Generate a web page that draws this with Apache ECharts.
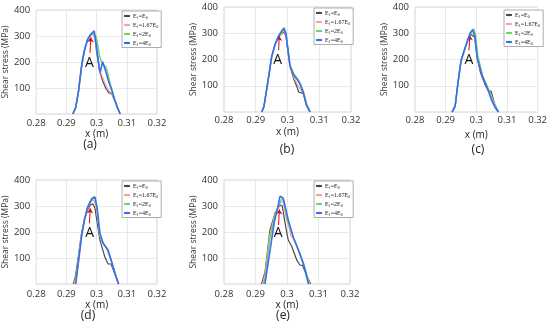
<!DOCTYPE html>
<html><head><meta charset="utf-8">
<script src="https://cdn.jsdelivr.net/npm/echarts@6/dist/echarts.min.js"></script>
<style>html,body{margin:0;padding:0;background:#fff}#c{width:550px;height:324px}</style>
</head><body><div id="c"></div>
<script>
// Series names (legend)
const seriesNames = ['E1=E0', 'E1=1.67E0', 'E1=2E0', 'E1=4E0'];
const panelLabels = ['(a)', '(b)', '(c)', '(d)', '(e)'];
const xTicks = [0.28, 0.29, 0.30, 0.31, 0.32];
const yTicks = [100, 200, 300, 400];

// Panel (a): [x (m), shear stress (MPa)]
const a_E0   = [[0.2922,0],[0.2931,24],[0.294,85],[0.295,178],[0.296,245],[0.297,283],[0.298,304],[0.2988,312],[0.2995,290],[0.300,240],[0.301,165],[0.302,128],[0.303,100],[0.304,82],[0.3045,76],[0.305,78],[0.306,52],[0.307,20],[0.3078,0]];
const a_E167 = [[0.2922,0],[0.2931,24],[0.294,86],[0.295,180],[0.296,246],[0.297,284],[0.298,303],[0.2988,308],[0.2995,292],[0.300,250],[0.301,172],[0.302,140],[0.303,112],[0.304,90],[0.305,80],[0.306,54],[0.307,21],[0.3078,0]];
const a_E2   = [[0.2922,0],[0.2931,25],[0.294,87],[0.295,181],[0.296,248],[0.297,285],[0.298,302],[0.299,308],[0.2998,300],[0.3005,260],[0.301,222],[0.302,190],[0.303,182],[0.3035,170],[0.304,140],[0.305,96],[0.306,56],[0.307,22],[0.3079,0]];
const a_E4   = [[0.2921,0],[0.2931,26],[0.294,88],[0.295,183],[0.2955,220],[0.2962,255],[0.297,287],[0.298,306],[0.2985,312],[0.2992,320],[0.300,258],[0.301,168],[0.3012,160],[0.302,201],[0.303,165],[0.304,124],[0.305,92],[0.306,54],[0.307,22],[0.3078,0]];

// Panel (b)
const b_E0   = [[0.2919,0],[0.2926,22],[0.294,128],[0.295,208],[0.296,252],[0.297,282],[0.298,298],[0.2988,305],[0.2995,290],[0.300,245],[0.3008,172],[0.302,125],[0.303,95],[0.3035,76],[0.304,80],[0.305,70],[0.306,25],[0.3071,0]];
const b_E167 = [[0.2919,0],[0.2926,22],[0.294,129],[0.295,209],[0.296,253],[0.297,283],[0.298,300],[0.2988,310],[0.2995,292],[0.300,248],[0.3008,174],[0.302,132],[0.303,108],[0.304,86],[0.305,72],[0.306,25],[0.3071,0]];
const b_E2   = [[0.2919,0],[0.2926,22],[0.294,130],[0.295,210],[0.296,254],[0.297,284],[0.298,304],[0.299,322],[0.2995,302],[0.300,255],[0.3008,178],[0.302,145],[0.303,130],[0.304,110],[0.305,80],[0.306,32],[0.3072,0]];
const b_E4   = [[0.2919,0],[0.2926,22],[0.294,130],[0.2945,171],[0.295,210],[0.296,255],[0.297,285],[0.298,305],[0.2988,318],[0.2995,300],[0.300,250],[0.3008,175],[0.302,140],[0.303,125],[0.304,105],[0.305,72],[0.306,25],[0.3071,0]];

// Panel (c)
const c_E0   = [[0.2921,0],[0.2931,22],[0.294,108],[0.295,192],[0.296,230],[0.297,265],[0.298,298],[0.2985,305],[0.2995,285],[0.3003,210],[0.3013,152],[0.303,101],[0.3041,76],[0.3048,80],[0.306,30],[0.3072,0]];
const c_E167 = [[0.2921,0],[0.2931,22],[0.294,109],[0.295,193],[0.296,231],[0.297,266],[0.298,300],[0.2988,308],[0.2995,290],[0.3003,215],[0.3013,160],[0.303,110],[0.304,88],[0.305,60],[0.306,28],[0.3072,0]];
const c_E2   = [[0.2921,0],[0.2931,22],[0.294,110],[0.295,194],[0.296,232],[0.297,267],[0.298,300],[0.2992,316],[0.2998,290],[0.3005,215],[0.302,140],[0.3035,98],[0.305,55],[0.306,22],[0.3073,0]];
const c_E4   = [[0.2921,0],[0.2931,22],[0.294,110],[0.295,195],[0.296,232],[0.297,268],[0.298,300],[0.2988,314],[0.2995,290],[0.3003,205],[0.302,135],[0.3035,95],[0.305,45],[0.306,20],[0.3072,0]];

// Panel (d)
const d_E0   = [[0.2923,0],[0.293,30],[0.294,110],[0.295,195],[0.296,250],[0.297,285],[0.298,305],[0.2988,308],[0.2995,290],[0.300,250],[0.3011,169],[0.3027,105],[0.3038,77],[0.3048,77],[0.3064,28],[0.3072,0]];
const d_E167 = [[0.2925,0],[0.2932,30],[0.294,100],[0.295,190],[0.296,250],[0.297,290],[0.298,315],[0.299,325],[0.2998,300],[0.3011,185],[0.302,160],[0.3035,130],[0.3048,90],[0.3064,30],[0.3073,0]];
const d_E2   = [[0.2928,0],[0.2935,40],[0.294,90],[0.295,185],[0.296,250],[0.297,292],[0.298,320],[0.2993,338],[0.300,300],[0.3011,185],[0.302,160],[0.3035,135],[0.3048,92],[0.3064,30],[0.3073,0]];
const d_E4   = [[0.2931,0],[0.2935,40],[0.294,85],[0.295,180],[0.296,248],[0.297,295],[0.2985,330],[0.2995,333],[0.3002,290],[0.3011,195],[0.3022,156],[0.3038,131],[0.3048,92],[0.3064,30],[0.3073,0]];

// Panel (e)
const e_E0   = [[0.2919,0],[0.293,45],[0.2946,208],[0.2962,272],[0.297,290],[0.2978,304],[0.2985,300],[0.2994,233],[0.3004,169],[0.3015,144],[0.3031,92],[0.3041,73],[0.3049,72],[0.3062,35],[0.3075,0]];
const e_E167 = [[0.2922,0],[0.293,35],[0.2945,185],[0.296,260],[0.297,290],[0.298,318],[0.2988,315],[0.2998,250],[0.3008,210],[0.3012,185],[0.302,175],[0.303,150],[0.304,120],[0.305,85],[0.3062,40],[0.3072,0]];
const e_E2   = [[0.2925,0],[0.2932,30],[0.2945,170],[0.296,255],[0.297,292],[0.2983,326],[0.299,322],[0.300,255],[0.3009,220],[0.302,180],[0.303,150],[0.304,118],[0.305,82],[0.3062,40],[0.307,0]];
const e_E4   = [[0.293,0],[0.2935,40],[0.295,160],[0.296,240],[0.297,290],[0.2978,338],[0.2988,330],[0.3004,246],[0.302,180],[0.3036,131],[0.3052,80],[0.3068,0]];

// Arrow "A": [tail, tip] in data coords, and label position
const arrowA = [[[0.2978,235],[0.2981,295]],[[0.2972,235],[0.2974,290]],[[0.2976,235],[0.2979,292]],[[0.2976,233],[0.2979,291]],[[0.2973,227],[0.2976,287]]];
const labelA = [[0.2976,198],[0.2969,197],[0.2976,197],[0.2977,197],[0.2972,197]];

const panelData = [
  [a_E0, a_E167, a_E2, a_E4],
  [b_E0, b_E167, b_E2, b_E4],
  [c_E0, c_E167, c_E2, c_E4],
  [d_E0, d_E167, d_E2, d_E4],
  [e_E0, e_E167, e_E2, e_E4]
];

// Layout (pixels)
const grids = [
  {left:32, top:10, width:125, height:104},
  {left:224, top:7, width:127, height:105},
  {left:415, top:7, width:125, height:105},
  {left:32, top:180, width:125, height:104},
  {left:224, top:180, width:126, height:104}
];
const legendPos = [{left:122,top:11},{left:314,top:8},{left:504,top:10},{left:122,top:181},{left:314,top:181}];
const xLabelMargin = [4,3,3,5,5];
const xNameGap = [13,15,18,13,13];
const panelLabelPos = [{x:90,y:145},{x:287,y:150},{x:478,y:150},{x:88,y:316},{x:283,y:316}];
const colors = ['#4a4a4a', '#f4a3a3', '#6ad86a', '#3a6cf2'];
const widths = [1.2, 1.2, 1.4, 1.6];

const font = 'Open Sans';
const tickFont = "'Liberation Sans Narrow', 'Open Sans', sans-serif";
const legendNames = {
  'E1=E0': '{n|E}{s|1}{n|=E}{s|0}',
  'E1=1.67E0': '{n|E}{s|1}{n|=1.67E}{s|0}',
  'E1=2E0': '{n|E}{s|1}{n|=2E}{s|0}',
  'E1=4E0': '{n|E}{s|1}{n|=4E}{s|0}'
};

const option = {
  animation: false,
  backgroundColor: '#fff',
  grid: grids.map(g => Object.assign({show:true, borderColor:'#d4d4d4', borderWidth:1, backgroundColor:'#fff'}, g)),
  xAxis: grids.map((g,i) => ({
    type:'value', gridIndex:i, min:0.28, max:0.32, interval:0.01,
    name:'x (m)', nameLocation:'middle', nameGap:xNameGap[i],
    nameTextStyle:{fontFamily:font, fontSize:10, color:'#222'},
    axisLine:{show:false}, axisTick:{show:false},
    axisLabel:{fontFamily:tickFont, fontSize:9.5, color:'#333', margin:xLabelMargin[i],
      formatter: v => String(parseFloat(v.toFixed(2)))},
    splitLine:{show:true, lineStyle:{color:'#e8e8e8', width:1}}
  })),
  yAxis: grids.map((g,i) => ({
    type:'value', gridIndex:i, min:0, max:400, interval:100,
    name:'Shear stress (MPa)', nameLocation:'middle', nameGap:19,
    nameTextStyle:{fontFamily:font, fontSize:8.5, color:'#333'},
    axisLine:{show:false}, axisTick:{show:false},
    axisLabel:{fontFamily:tickFont, fontSize:9.5, color:'#333', margin:6,
      formatter: v => (yTicks.indexOf(v) >= 0 ? String(v) : '')},
    splitLine:{show:true, lineStyle:{color:'#e8e8e8', width:1}}
  })),
  legend: legendPos.map(p => ({
    left:p.left, top:p.top, orient:'vertical', data:seriesNames,
    itemWidth:6, itemHeight:3, itemGap:2.5, padding:[2,3,1,1],
    backgroundColor:'#fff', borderColor:'#999', borderWidth:0.8, borderRadius:0,
    selectedMode:false,
    formatter: n => legendNames[n],
    textStyle:{fontFamily:'Liberation Serif', fontSize:6, color:'#222', padding:[0,0,0,-2],
      rich:{n:{fontFamily:'Liberation Serif', fontSize:6, color:'#222'},
            s:{fontFamily:'Liberation Serif', fontSize:4, color:'#222', padding:[3,0,0,0]}}}
  })),
  title: panelLabels.map((t,i) => ({
    text:t, left:panelLabelPos[i].x, top:panelLabelPos[i].y, textAlign:'center', textVerticalAlign:'middle',
    padding:0, textStyle:{fontFamily:font, fontSize:12, fontWeight:'normal', color:'#222'}
  })),
  series: []
};

panelData.forEach((arrs, p) => {
  arrs.forEach((d, s) => {
    const ser = {
      type:'line', name:seriesNames[s], xAxisIndex:p, yAxisIndex:p, data:d,
      symbol:'none', smooth:false, clip:true,
      lineStyle:{color:colors[s], width:widths[s]}, itemStyle:{color:colors[s]}, z: 2 + s
    };
    if (s === 3) {
      ser.markLine = {
        silent:true, symbol:['none','arrow'], symbolSize:[5,5], animation:false,
        lineStyle:{color:'#d01010', width:1, type:'solid'}, label:{show:false},
        data:[[{coord:arrowA[p][0]},{coord:arrowA[p][1]}]]
      };
      ser.markPoint = {
        silent:true, animation:false,
        data:[{coord:labelA[p], symbol:'rect', symbolSize:1, itemStyle:{color:'rgba(0,0,0,0)'},
          label:{show:true, formatter:'A', position:'inside', fontFamily:font, fontSize:14, color:'#111'}}]
      };
    }
    option.series.push(ser);
  });
});

const chart = echarts.init(document.getElementById('c'), null, {renderer:'canvas'});
chart.setOption(option);
</script>
</body></html>
